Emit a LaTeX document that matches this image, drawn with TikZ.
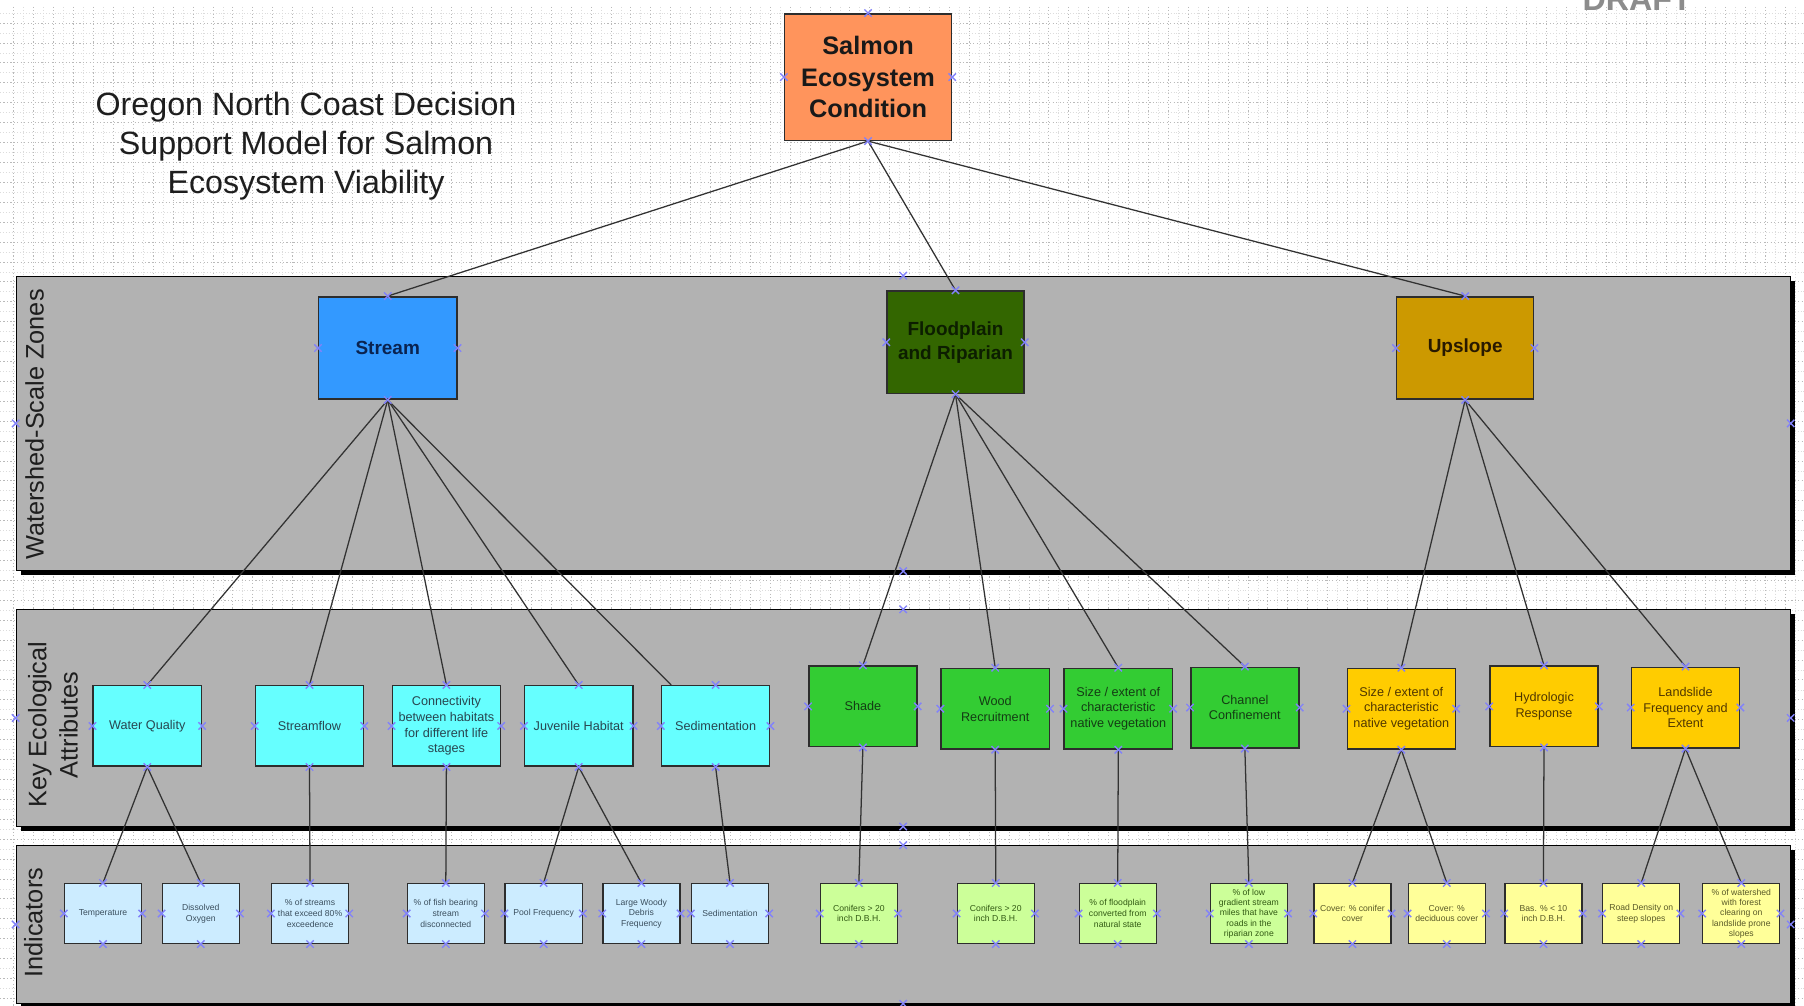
\documentclass[tikz,border=0pt]{standalone}
\usepackage{fontspec}
\setmainfont{Liberation Sans}
\usetikzlibrary{calc}

\definecolor{bandc}{RGB}{178,178,178}
\definecolor{edgec}{RGB}{45,45,45}
\definecolor{linec}{RGB}{50,50,50}
\definecolor{markc}{RGB}{130,130,250}
\definecolor{gridc}{RGB}{185,185,185}
\definecolor{gridf}{RGB}{220,220,220}
\definecolor{labelc}{RGB}{30,30,30}
\definecolor{salmonc}{RGB}{255,148,92}
\definecolor{streamc}{RGB}{51,153,255}
\definecolor{floodc}{RGB}{51,102,0}
\definecolor{upslc}{RGB}{204,153,0}
\definecolor{cyanc}{RGB}{102,255,255}
\definecolor{greenc}{RGB}{51,204,51}
\definecolor{goldc}{RGB}{255,204,0}
\definecolor{lblue}{RGB}{204,236,255}
\definecolor{lgreen}{RGB}{204,255,153}
\definecolor{lyellow}{RGB}{255,255,153}

\begin{document}
\begin{tikzpicture}[x=1pt,y=-1pt,
  box/.style={draw=edgec, line width=1.3pt, align=center, inner sep=1pt},
  zonebox/.style={box, minimum width=120, minimum height=89,
    font=\fontsize{16.5}{21}\selectfont\bfseries},
  kea/.style={box, minimum width=94, minimum height=70,
    font=\fontsize{11}{13.5}\selectfont},
  ind/.style={box, line width=1.1pt, minimum width=67, minimum height=52,
    font=\fontsize{7.5}{9.3}\selectfont},
  band/.style={draw=black, line width=0.8pt, fill=bandc, inner sep=0pt,
    preaction={fill=black, transform canvas={shift={(4pt,-4pt)}}}},
  link/.style={draw=linec, line width=1.1pt},
  cpm/.style={draw=markc, line width=1.2pt},
  lbl/.style={rotate=90, font=\fontsize{22}{27}\selectfont, text=labelc, align=center},
]
\useasboundingbox (0,0) rectangle (1568,874);
\clip (0,0) rectangle (1568,874);
\fill[white] (0,0) rectangle (1568,874);

% drawing-paper grid
\foreach \i in {0,...,91} {
  \draw[gridf, line width=0.5pt, dotted] ({20.65+17.3*\i},6) -- ({20.65+17.3*\i},874);
  \draw[gridc, line width=0.6pt, dash pattern=on 1pt off 2pt] ({12+17.3*\i},6) -- ({12+17.3*\i},874);
}
\foreach \j in {0,...,51} {
  \draw[gridf, line width=0.5pt, dotted] (0,{11.35+17.3*\j}) -- (1568,{11.35+17.3*\j});
  \draw[gridc, line width=0.6pt, dash pattern=on 1pt off 2pt] (0,{20+17.3*\j}) -- (1568,{20+17.3*\j});
}

% stamp running off the top edge
\node[anchor=base, font=\fontsize{28}{30}\selectfont\bfseries, text=black!45] (stamp) at (1423,9) {DRAFT};

% title
\node[font=\fontsize{28}{34}\selectfont, text=labelc, align=center] (title) at (266,127)
  {Oregon North Coast Decision\\Support Model for Salmon\\Ecosystem Viability};

% swim-lane bands
\node[band, minimum width=1542, minimum height=256] (bandA) at (785,368) {};
\node[band, minimum width=1542, minimum height=188] (bandB) at (785,624) {};
\node[band, minimum width=1542, minimum height=137] (bandC) at (785,803.5) {};

\node[lbl] (labA) at (30,369) {Watershed-Scale Zones};
\node[lbl] (labB) at (46,630) {Key Ecological\\Attributes};
\node[lbl] (labC) at (29,802) {Indicators};

% top node
\node[box, fill=salmonc, minimum width=145, minimum height=110,
  font=\fontsize{22}{27.5}\selectfont\bfseries, text=black!90] (top) at (754.5,67)
  {Salmon\\Ecosystem\\Condition};

% watershed-scale zones
\node[zonebox, fill=streamc, text={rgb,255:red,10;green,35;blue,80}] (stream) at (337,302.5) {Stream};
\node[zonebox, fill=floodc, minimum width=119, text={rgb,255:red,12;green,30;blue,0}] (flood) at (830.5,297.5) {Floodplain\\and Riparian};
\node[zonebox, fill=upslc, minimum width=119, text={rgb,255:red,40;green,25;blue,0}] (upslope) at (1273.5,302.5) {Upslope};

% key ecological attributes
\begin{scope}[every node/.append style={kea}]
\node[fill=cyanc, text={rgb,255:red,40;green,70;blue,80}] (wq) at (128,631) {Water Quality};
\node[fill=cyanc, text={rgb,255:red,40;green,70;blue,80}] (sf) at (269,631) {Streamflow};
\node[fill=cyanc, text={rgb,255:red,40;green,70;blue,80}] (conn) at (388,631) {Connectivity\\between habitats\\for different life\\stages};
\node[fill=cyanc, text={rgb,255:red,40;green,70;blue,80}] (juv) at (503,631) {Juvenile Habitat};
\node[fill=cyanc, text={rgb,255:red,40;green,70;blue,80}] (sed) at (622,631) {Sedimentation};
\node[fill=greenc, text={rgb,255:red,20;green,60;blue,20}] (shade) at (750,614) {Shade};
\node[fill=greenc, text={rgb,255:red,20;green,60;blue,20}] (wood) at (865,616) {Wood\\Recruitment};
\node[fill=greenc, text={rgb,255:red,20;green,60;blue,20}] (sizeg) at (972,616) {Size / extent of\\characteristic\\native vegetation};
\node[fill=greenc, text={rgb,255:red,20;green,60;blue,20}] (chan) at (1082,615) {Channel\\Confinement};
\node[fill=goldc, text={rgb,255:red,80;green,55;blue,0}] (sizey) at (1218,616) {Size / extent of\\characteristic\\native vegetation};
\node[fill=goldc, text={rgb,255:red,80;green,55;blue,0}] (hydro) at (1342,614) {Hydrologic\\Response};
\node[fill=goldc, text={rgb,255:red,80;green,55;blue,0}] (land) at (1465,615) {Landslide\\Frequency and\\Extent};
\end{scope}

% indicators
\begin{scope}[every node/.append style={ind}]
\node[fill=lblue, text={rgb,255:red,60;green,80;blue,95}] (temp) at (89.5,794) {Temperature};
\node[fill=lblue, text={rgb,255:red,60;green,80;blue,95}] (dox) at (174.5,794) {Dissolved\\Oxygen};
\node[fill=lblue, text={rgb,255:red,60;green,80;blue,95}] (strm) at (269.5,794) {\% of streams\\that exceed 80\%\\exceedence};
\node[fill=lblue, text={rgb,255:red,60;green,80;blue,95}] (fish) at (387.5,794) {\% of fish bearing\\stream\\disconnected};
\node[fill=lblue, text={rgb,255:red,60;green,80;blue,95}] (pool) at (472.5,794) {Pool Frequency};
\node[fill=lblue, text={rgb,255:red,60;green,80;blue,95}] (lwd) at (557.5,794) {Large Woody\\Debris\\Frequency};
\node[fill=lblue, text={rgb,255:red,60;green,80;blue,95}] (sedi) at (634.5,794) {Sedimentation};
\node[fill=lgreen, text={rgb,255:red,50;green,90;blue,20}] (con1) at (746.5,794) {Conifers > 20\\inch D.B.H.};
\node[fill=lgreen, text={rgb,255:red,50;green,90;blue,20}] (con2) at (865.5,794) {Conifers > 20\\inch D.B.H.};
\node[fill=lgreen, text={rgb,255:red,50;green,90;blue,20}] (flp) at (971.5,794) {\% of floodplain\\converted from\\natural state};
\node[fill=lgreen, text={rgb,255:red,50;green,90;blue,20}, font=\fontsize{7.5}{9}\selectfont] (low) at (1085.5,794) {\% of low\\gradient stream\\miles that have\\roads in the\\riparian zone};
\node[fill=lyellow, text={rgb,255:red,90;green,90;blue,40}] (ccov) at (1175.5,794) {Cover: \% conifer\\cover};
\node[fill=lyellow, text={rgb,255:red,90;green,90;blue,40}] (dcov) at (1257.5,794) {Cover: \%\\deciduous cover};
\node[fill=lyellow, text={rgb,255:red,90;green,90;blue,40}] (bas) at (1341.5,794) {Bas. \% < 10\\inch D.B.H.};
\node[fill=lyellow, text={rgb,255:red,90;green,90;blue,40}] (road) at (1426.5,794) {Road Density on\\steep slopes};
\node[fill=lyellow, text={rgb,255:red,90;green,90;blue,40}, font=\fontsize{7.5}{9}\selectfont] (wsh) at (1513.5,794) {\% of watershed\\with forest\\clearing on\\landslide prone\\slopes};
\end{scope}

% connectors
\foreach \a/\b in {top/stream, top/flood, top/upslope,
  stream/wq, stream/sf, stream/conn, stream/juv,
  flood/shade, flood/wood, flood/sizeg, flood/chan,
  upslope/sizey, upslope/hydro, upslope/land,
  wq/temp, wq/dox, sf/strm, conn/fish, juv/pool, juv/lwd, sed/sedi,
  shade/con1, wood/con2, sizeg/flp, chan/low,
  sizey/ccov, sizey/dcov, hydro/bas, land/road, land/wsh}
  \draw[link] (\a.south) -- (\b.north);
\draw[link] (stream.south) -- ($(sed.north west)+(9,0)$);

% connection points
\foreach \n in {top,stream,flood,upslope,wq,sf,conn,juv,sed,shade,wood,sizeg,chan,
  sizey,hydro,land,temp,dox,strm,fish,pool,lwd,sedi,con1,con2,flp,low,ccov,dcov,bas,road,wsh,
  bandA,bandB,bandC}
  \foreach \p in {north,south,east,west}
    \draw[cpm] (\n.\p) +(-3.2,-3.2) -- +(3.2,3.2) +(-3.2,3.2) -- +(3.2,-3.2);
\end{tikzpicture}
\end{document}
